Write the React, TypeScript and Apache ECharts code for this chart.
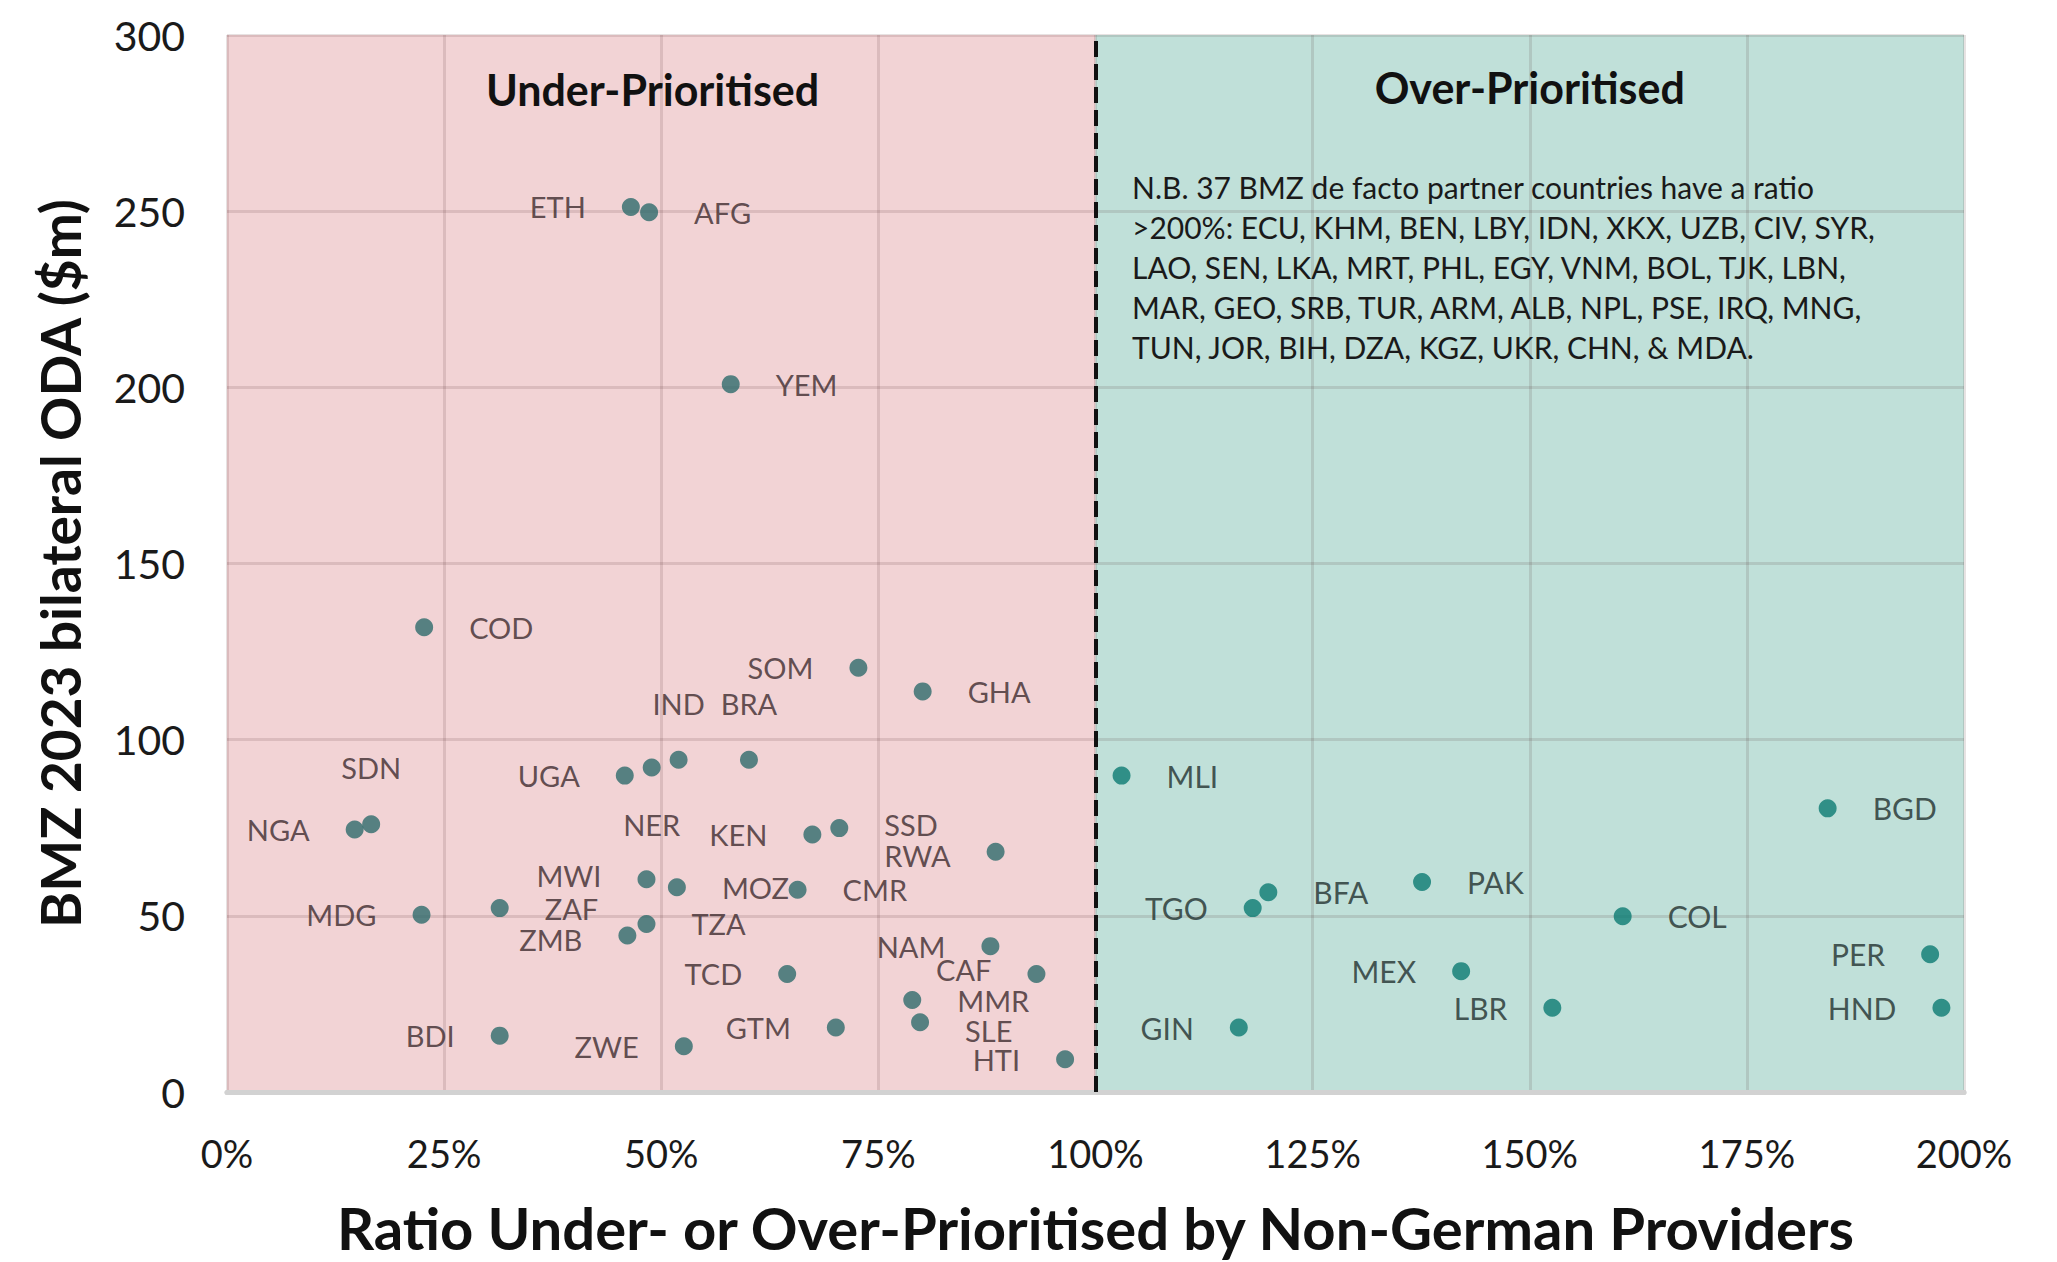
import React, { useEffect, useRef } from "react";
import * as echarts from "echarts";

const countries = ["ETH","AFG","YEM","COD","SOM","GHA","IND","BRA","UGA","NER","SDN","NGA","KEN","SSD","RWA","MWI","MOZ","CMR","MDG","ZAF","ZMB","TZA","NAM","TCD","CAF","MMR","SLE","BDI","ZWE","GTM","HTI","MLI","BGD","TGO","BFA","PAK","COL","MEX","LBR","PER","HND","GIN"];
const ratioPct = [46.5,48.6,58.0,22.7,72.7,80.1,52.0,60.1,45.8,48.9,16.6,14.7,67.4,70.5,88.5,48.3,51.8,65.7,22.4,31.4,46.1,48.3,87.9,64.5,93.2,78.9,79.8,31.4,52.6,70.1,96.5,103.0,184.3,118.1,119.9,137.6,160.7,142.1,152.6,196.1,197.4,116.5];
const odaMillions = [251.2,249.7,200.9,131.9,120.4,113.7,94.3,94.3,89.8,92.1,76.0,74.5,73.1,74.9,68.2,60.4,58.1,57.4,50.3,52.2,44.4,47.7,41.4,33.5,33.5,26.1,19.8,16.0,13.0,18.3,9.3,89.8,80.5,52.2,56.7,59.6,49.9,34.3,23.9,39.1,23.9,18.3];
const labelSide = ["left","right","right","right","left","right","top","top","left","bottom","top","left","left","right","left","left","right","right","left","right","left","right","left","left","left","right","right","left","left","left","left","right","right","left","right","right","right","left","left","left","left","left"];
// small vertical nudges (px) for crowded labels
const labelNudge: Record<string, number> = { SSD: -4, RWA: 4, CAF: -4, MMR: 0, SLE: 8, MWI: -4, ZMB: 4 };

const threshold = 100;

const regionTitles = ["Under-Prioritised", "Over-Prioritised"];
const noteLines = [
  "N.B. 37 BMZ de facto partner countries have a ratio",
  ">200%: ECU, KHM, BEN, LBY, IDN, XKX, UZB, CIV, SYR,",
  "LAO, SEN, LKA, MRT, PHL, EGY, VNM, BOL, TJK, LBN,",
  "MAR, GEO, SRB, TUR, ARM, ALB, NPL, PSE, IRQ, MNG,",
  "TUN, JOR, BIH, DZA, KGZ, UKR, CHN, & MDA.",
];

const FONT = "Lato, 'Open Sans', sans-serif";

function buildPoints(under: boolean) {
  const out: any[] = [];
  countries.forEach((c, i) => {
    if ((ratioPct[i] < threshold) !== under) return;
    const side = labelSide[i];
    const vertical = side === "top" || side === "bottom";
    out.push({
      name: c,
      value: [ratioPct[i], odaMillions[i]],
      label: { position: side, distance: vertical ? 33 : 36, offset: [0, labelNudge[c] || 0] },
    });
  });
  return out;
}

export default function App() {
  const ref = useRef<HTMLDivElement>(null);
  useEffect(() => {
    if (!ref.current) return;
    const chart = echarts.init(ref.current, null, { renderer: "svg" });
    const gridLeft = 227, gridRight = 93, gridTop = 35, gridBottom = 170;
    const plotW = 2057 - gridLeft - gridRight;
    const xPx = (v: number) => gridLeft + (v / 200) * plotW;

    const option: any = {
      animation: false,
      backgroundColor: "#ffffff",
      grid: { left: gridLeft, right: gridRight, top: gridTop, bottom: gridBottom, containLabel: false },
      xAxis: [
        {
          type: "value", min: 0, max: 200, interval: 25, z: 2,
          axisLine: { show: true, onZero: false, lineStyle: { color: "#d2d2d2", width: 5 } },
          axisTick: { show: false },
          axisLabel: { formatter: "{value}%", fontSize: 38, color: "#1a1a1a", margin: 42, fontFamily: FONT },
          splitLine: { show: true, lineStyle: { color: "rgba(70,30,30,0.13)", width: 3 } },
          name: "Ratio Under- or Over-Prioritised by Non-German Providers",
          nameLocation: "middle", nameGap: 106,
          nameTextStyle: { fontSize: 58, fontWeight: "bold", color: "#111", fontFamily: FONT },
        },
        {
          type: "value", min: 0, max: 200, position: "top",
          axisLine: { show: true, lineStyle: { color: "#dedede", width: 5 } },
          axisTick: { show: false }, axisLabel: { show: false }, splitLine: { show: false },
        },
      ],
      yAxis: {
        type: "value", min: 0, max: 300, interval: 50, z: 2,
        axisLine: { show: false }, axisTick: { show: false },
        axisLabel: { fontSize: 41, color: "#1a1a1a", margin: 42, fontFamily: FONT },
        splitLine: { show: true, lineStyle: { color: "rgba(70,30,30,0.13)", width: 3 } },
        name: "BMZ 2023 bilateral ODA ($m)",
        nameLocation: "middle", nameGap: 140,
        nameTextStyle: { fontSize: 55, fontWeight: "bold", color: "#111", fontFamily: FONT },
      },
      series: [
        {
          type: "scatter", data: [], z: 1, silent: true,
          markArea: {
            silent: true,
            data: [
              [{ coord: [0, 0], itemStyle: { color: "#f2d3d5" } }, { coord: [threshold, 300] }],
              [{ coord: [threshold, 0], itemStyle: { color: "#c0e0d9" } }, { coord: [200, 300] }],
            ],
          },
          markLine: {
            silent: true, symbol: ["none", "none"],
            label: { show: false },
            lineStyle: { color: "#111", type: [16, 7], width: 4 },
            data: [{ xAxis: threshold }],
          },
        },
        {
          name: "Under", type: "scatter", z: 3, symbolSize: 18,
          itemStyle: { color: "#2e6b6c" },
          label: { show: true, formatter: "{b}", fontSize: 29, color: "#3b2a2d", fontFamily: FONT },
          data: buildPoints(true),
        },
        {
          name: "Over", type: "scatter", z: 3, symbolSize: 18,
          itemStyle: { color: "#0b7a72" },
          label: { show: true, formatter: "{b}", fontSize: 30, color: "#1f2f2d", fontFamily: FONT },
          data: buildPoints(false),
        },
      ],
      graphic: [
        {
          type: "text", x: xPx(49), y: 89, z: 50,
          style: { text: regionTitles[0], fontSize: 43, fontWeight: "bold", fill: "#111", fontFamily: FONT, align: "center", verticalAlign: "middle" },
        },
        {
          type: "text", x: xPx(150), y: 87, z: 50,
          style: { text: regionTitles[1], fontSize: 43, fontWeight: "bold", fill: "#111", fontFamily: FONT, align: "center", verticalAlign: "middle" },
        },
        {
          type: "text", x: 1132, y: 167, z: 50,
          style: { text: noteLines.join("\n"), fontSize: 30, lineHeight: 40, fill: "#1a1a1a", fontFamily: FONT, align: "left", verticalAlign: "top" },
        },
      ],
    };
    chart.setOption(option);
    return () => chart.dispose();
  }, []);
  return <div ref={ref} style={{ position: "absolute", left: 0, top: 0, width: 2057, height: 1262 }} />;
}
